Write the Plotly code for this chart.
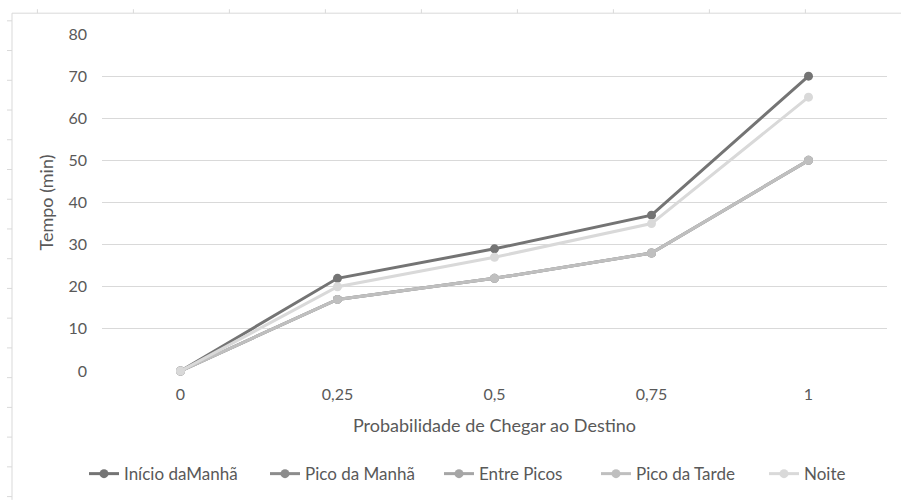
import plotly.graph_objects as go

# Probability of reaching the destination vs. travel time, per period of the day
probabilidade = ["0", "0,25", "0,5", "0,75", "1"]
inicio_manha = [0, 22, 29, 37, 70]
pico_manha = [0, 17, 22, 28, 50]
entre_picos = [0, 17, 22, 28, 50]
pico_tarde = [0, 17, 22, 28, 50]
noite = [0, 20, 27, 35, 65]

series_names = ["Início daManhã", "Pico da Manhã", "Entre Picos", "Pico da Tarde", "Noite"]
series_values = [inicio_manha, pico_manha, entre_picos, pico_tarde, noite]
series_colors = ["#747474", "#8c8c8c", "#a6a6a6", "#bfbfbf", "#d9d9d9"]

FONT = "Lato, 'Open Sans', sans-serif"
TXT = "#595959"
W, H = 901, 504
L, R, T, B = 102, 14, 34, 130
PW, PH = W - L - R, H - T - B


def px(x):
    return (x - L) / PW


def py(y):
    return (H - B - y) / PH


legend_keys = ["legend", "legend2", "legend3", "legend4", "legend5"]
legend_starts = [88, 269, 443, 600, 768]

fig = go.Figure()
for key, name, vals, col in zip(legend_keys, series_names, series_values, series_colors):
    fig.add_trace(go.Scatter(
        x=probabilidade, y=vals, name=name, mode="lines+markers",
        line=dict(color=col, width=3), marker=dict(color=col, size=9),
        cliponaxis=False, legend=key, showlegend=True,
    ))

legends = {}
for key, xs in zip(legend_keys, legend_starts):
    legends[key] = dict(
        x=px(xs - 4), y=py(478), xanchor="left", yanchor="middle",
        orientation="h", bgcolor="rgba(0,0,0,0)", borderwidth=0,
        font=dict(family=FONT, size=17, color=TXT), itemclick=False,
    )

# Outer frame with ruler-like tick marks
FRAME = "#d9d9d9"
shapes = [
    dict(type="line", xref="paper", yref="paper", x0=px(12), x1=px(901), y0=py(13), y1=py(13),
         line=dict(color=FRAME, width=1)),
    dict(type="line", xref="paper", yref="paper", x0=px(12), x1=px(12), y0=py(13), y1=py(504),
         line=dict(color=FRAME, width=1)),
]
for k in range(9):
    xt = 37.4 + 96 * k
    shapes.append(dict(type="line", xref="paper", yref="paper", x0=px(xt), x1=px(xt),
                       y0=py(9), y1=py(13), line=dict(color=FRAME, width=1)))
for k in range(17):
    yt = 20.7 + 30 * k
    shapes.append(dict(type="line", xref="paper", yref="paper", x0=px(7), x1=px(12),
                       y0=py(yt), y1=py(yt), line=dict(color=FRAME, width=1)))

fig.update_layout(
    width=W, height=H,
    margin=dict(l=L, r=R, t=T, b=B),
    paper_bgcolor="white", plot_bgcolor="white",
    font=dict(family=FONT, color=TXT),
    showlegend=True,
    shapes=shapes,
    **legends,
)
fig.update_xaxes(
    type="category", range=[-0.5, 4.5], showgrid=False, zeroline=False, showline=False,
    ticks="", ticklabelstandoff=12, tickfont=dict(family=FONT, size=16, color=TXT),
    title=dict(text="Probabilidade de Chegar ao Destino", standoff=17,
               font=dict(family=FONT, size=18, color=TXT)),
)
fig.update_yaxes(
    range=[0, 80], dtick=10, showgrid=True, gridcolor="#d9d9d9", gridwidth=1,
    zeroline=False, showline=False, ticks="", ticklabelstandoff=14,
    tickfont=dict(family=FONT, size=16, color=TXT),
    title=dict(text="Tempo (min)", standoff=10, font=dict(family=FONT, size=18, color=TXT)),
)

fig.write_html("out.html")
